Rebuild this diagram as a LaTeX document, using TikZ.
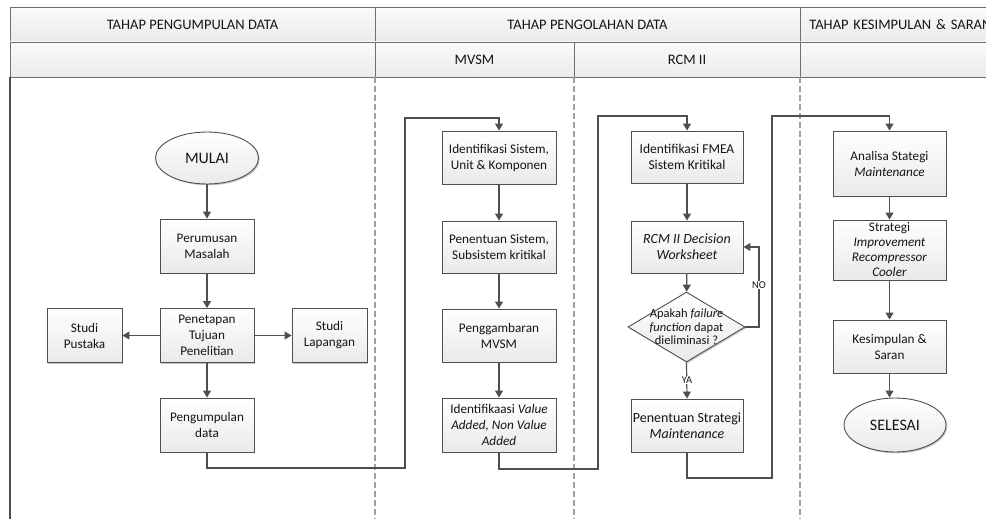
\documentclass[tikz,border=0pt]{standalone}
\usepackage{fontspec}
\setmainfont{Carlito}
\usetikzlibrary{shapes.geometric,shadows,arrows.meta}
\definecolor{lc}{HTML}{4F4F4F}
\definecolor{hdr}{HTML}{707070}
\definecolor{dashc}{HTML}{A0A0A0}
\definecolor{txt}{HTML}{151515}
\begin{document}
\begin{tikzpicture}[x=1pt,y=-1pt,
  box/.style={draw=lc, line width=0.9pt, top color=white, bottom color=gray!17,
    minimum width=94pt, minimum height=54pt, align=center, inner sep=1pt, text=txt,
    font=\fontsize{13.2}{16}\selectfont,
    drop shadow={shadow xshift=1.3pt,shadow yshift=-1.3pt,opacity=0.22,fill=black}},
  term/.style={ellipse, draw=lc, line width=0.9pt, top color=white, bottom color=gray!17,
    inner sep=0pt, text=txt, font=\fontsize{16}{18}\selectfont,
    drop shadow={shadow xshift=1.3pt,shadow yshift=-1.3pt,opacity=0.22,fill=black}},
  dmd/.style={diamond, draw=lc, line width=0.9pt, top color=white, bottom color=gray!17,
    inner sep=0pt, minimum width=117pt, minimum height=70pt,
    drop shadow={shadow xshift=1.3pt,shadow yshift=-1.3pt,opacity=0.22,fill=black}},
  arr/.style={draw=lc, line width=1.2pt, -{Triangle[width=8pt,length=7pt]}},
  hcell/.style={draw=hdr, line width=0.8pt, top color=gray!4, bottom color=gray!16,
    minimum height=35pt, inner sep=0pt, text=txt, font=\fontsize{14.5}{16}\selectfont},
  lane/.style={draw=dashc, line width=1.1pt, dash pattern=on 6pt off 3pt},
  lbl/.style={fill=white, inner sep=1pt, text=txt, font=\fontsize{10.5}{12}\selectfont}
]
\useasboundingbox (0,0) rectangle (986,519);
\clip (0,0) rectangle (986,519);
\fill[white] (0,0) rectangle (986,519);

% header
\node[hcell, minimum width=365pt] (h1) at (192.5,24.5) {TAHAP PENGUMPULAN DATA};
\node[hcell, minimum width=425pt] (h2) at (587.5,24.5) {TAHAP PENGOLAHAN DATA};
\node[hcell, anchor=west, inner xsep=9pt, text width=240pt, align=left] (h3) at (800,24.5) {TAHAP KESIMPULAN \& SARAN};
\node[hcell, minimum width=365pt] (s1) at (192.5,59.5) {};
\node[hcell, minimum width=199pt] (s2) at (474.5,59.5) {MVSM};
\node[hcell, minimum width=226pt] (s3) at (687,59.5) {RCM II};
\node[hcell, minimum width=200pt, anchor=west] (s4) at (800,59.5) {};

% lanes
\draw[draw=lc, line width=1.2pt] (10,77) -- (10,519);
\draw[lane] (375,77) -- (375,519);
\draw[lane] (574,77) -- (574,519);
\draw[lane] (800,77) -- (800,519);

% column 1
\node[term, minimum width=103pt, minimum height=52pt] (mulai) at (207,158) {MULAI};
\node[box] (pm) at (207,246) {Perumusan\\Masalah};
\node[box] (pt) at (207,335.5) {Penetapan\\Tujuan\\Penelitian};
\node[box, minimum width=75pt] (sp) at (84.5,335.5) {Studi\\Pustaka};
\node[box, minimum width=75pt] (sl) at (329.5,335.5) {Studi\\Lapangan};
\node[box] (pg) at (207,425) {Pengumpulan\\data};

% column MVSM
\node[box, minimum width=114pt, minimum height=53pt] (is) at (499,157.5) {Identifikasi Sistem,\\Unit \& Komponen};
\node[box, minimum width=114pt, minimum height=52pt] (pk) at (499,247) {Penentuan Sistem,\\Subsistem kritikal};
\node[box, minimum width=114pt, minimum height=53pt] (mv) at (499,335.5) {Penggambaran\\MVSM};
\node[box, minimum width=114pt] (va) at (499,425) {Identifikaasi \textit{Value}\\\textit{Added, Non Value}\\\textit{Added}};

% column RCM II
\node[box, minimum width=112pt, minimum height=52pt, font=\fontsize{13.5}{16}\selectfont] (fm) at (687,157) {Identifikasi FMEA\\Sistem Kritikal};
\node[box, minimum width=112pt, minimum height=52pt, font=\fontsize{14}{16}\selectfont] (rcm) at (687,247) {\textit{RCM II Decision}\\\textit{Worksheet}};
\node[dmd, label={[align=center, text=txt, font=\fontsize{12.5}{13.5}\selectfont]center:Apakah \textit{failure}\\\textit{function} dapat\\dieliminasi ?}] (dia) at (686.5,327) {};
\node[box, minimum width=112pt, minimum height=53pt, font=\fontsize{14}{16}\selectfont] (stm) at (687,425.5) {Penentuan Strategi\\\textit{Maintenance}};

% column kesimpulan
\node[box, minimum width=113pt, minimum height=65pt] (an) at (889.5,163.5) {Analisa Stategi\\\textit{Maintenance}};
\node[box, minimum width=113pt, minimum height=60pt, inner sep=0pt, font=\fontsize{13.2}{15}\selectfont] (imp) at (889.5,250) {Strategi\\\textit{Improvement}\\\textit{Recompressor}\\\textit{Cooler}};
\node[box, minimum width=113pt, minimum height=53pt] (kes) at (889.5,346.5) {Kesimpulan \&\\Saran};
\node[term, minimum width=102pt, minimum height=54pt] (sel) at (895,425) {SELESAI};

% connectors column 1
\draw[arr] (mulai) -- (pm);
\draw[arr] (pm) -- (pt);
\draw[arr] (pt) -- (sp);
\draw[arr] (pt) -- (sl);
\draw[arr] (pt) -- (pg);

% link to MVSM
\coordinate (c1) at (405,468);
\coordinate (c2) at (405,118);
\draw[arr] (pg.south) |- (c1) -- (c2) -| (is.north);

\draw[arr] (is) -- (pk);
\draw[arr] (pk) -- (mv);
\draw[arr] (mv) -- (va);

% link to RCM II
\coordinate (c3) at (598,469);
\coordinate (c4) at (598,116);
\draw[arr] (va.south) |- (c3) -- (c4) -| (fm.north);

\draw[arr] (fm) -- (rcm);
\draw[arr] (rcm) -- (dia);
\coordinate (c7) at (759,247);
\draw[arr] (dia.east) -| (c7) -- (rcm.east);
\node[lbl] (no) at (759,285) {NO};
\draw[arr] (dia.south) -- (stm.north);
\node[lbl] (ya) at (687,380) {YA};

% link to kesimpulan
\coordinate (c5) at (772,478);
\coordinate (c6) at (772,116);
\draw[arr] (stm.south) |- (c5) -- (c6) -| (an.north);

\draw[arr] (an) -- (imp);
\draw[arr] (imp) -- (kes);
\draw[arr] (kes.south) -- (kes.south |- sel.north);
\end{tikzpicture}
\end{document}
